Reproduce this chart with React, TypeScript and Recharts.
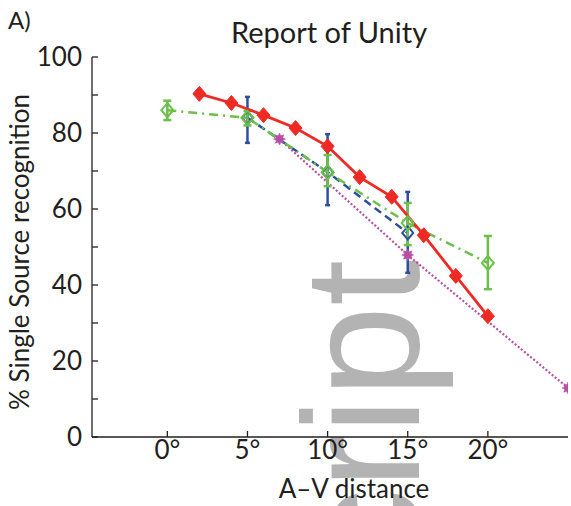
import { LineChart, Line, XAxis, YAxis, ErrorBar } from 'recharts';

// red: filled diamonds, solid
const redX = [2, 4, 6, 8, 10, 12, 14, 16, 18, 20];
const redY = [90.3, 87.9, 84.7, 81.3, 76.5, 68.4, 63.2, 53.1, 42.4, 31.8];

// green: open diamonds, dash-dot, with error bars
const greenX = [0, 5, 10, 15, 20];
const greenY = [86, 84, 69.7, 56.3, 45.8];
const greenLow = [2.6, 2, 3.7, 5.8, 6.9];
const greenHigh = [2.5, 1.8, 4.5, 5.3, 7.1];

// blue: open diamonds, dashed, with error bars
const blueX = [5, 10, 15];
const blueY = [84, 69.7, 53.7];
const blueLow = [6.6, 8.7, 10.5];
const blueHigh = [5.5, 10, 10.8];

// magenta: star markers, dotted
const pinkX = [7, 15, 25];
const pinkY = [78.4, 47.9, 12.9];

const xTicks = [0, 5, 10, 15, 20];
const yTicks = [0, 10, 20, 30, 40, 50, 60, 70, 80, 90, 100];

const RED = '#ee2a24';
const GREEN = '#6cbf4a';
const BLUE = '#2e4f9e';
const PINK = '#b84fa5';
const INK = '#231f20';
const FONT = 'Lato, "Open Sans", sans-serif';

const redData = redX.map((x, i) => ({ x, y: redY[i] }));
const greenData = greenX.map((x, i) => ({ x, y: greenY[i], err: [greenLow[i], greenHigh[i]] }));
const blueData = blueX.map((x, i) => ({ x, y: blueY[i], err: [blueLow[i], blueHigh[i]] }));
const pinkData = pinkX.map((x, i) => ({ x, y: pinkY[i] }));

function diamond(fill: string, stroke: string, w: number, h: number, sw: number) {
  return (p: any) => {
    const { cx, cy, index } = p;
    if (cx == null || cy == null) return <g key={index} />;
    return (
      <polygon
        key={index}
        points={`${cx},${cy - h} ${cx + w},${cy} ${cx},${cy + h} ${cx - w},${cy}`}
        fill={fill}
        stroke={stroke}
        strokeWidth={sw}
      />
    );
  };
}

function star(p: any) {
  const { cx, cy, index } = p;
  if (cx == null || cy == null) return <g key={index} />;
  const pts: string[] = [];
  for (let k = 0; k < 16; k++) {
    const r = k % 2 === 0 ? 6 : 3.5;
    const a = (Math.PI * k) / 8;
    pts.push(`${cx + r * Math.cos(a)},${cy + r * Math.sin(a)}`);
  }
  return <polygon key={index} points={pts.join(' ')} fill={PINK} stroke={PINK} strokeWidth={0.5} />;
}

export default function App() {
  return (
    <div style={{ position: 'absolute', left: 0, top: 0, width: 571, height: 506, background: '#fff' }}>
      <svg width={571} height={506} style={{ position: 'absolute', left: 0, top: 0 }}>
        <text
          x={419}
          y={260}
          transform="rotate(-90, 419, 260)"
          textAnchor="end"
          fontFamily='"Liberation Sans", Arial, sans-serif'
          fontSize={165}
          fill="#b3b3b3"
        >
          Manuscript
        </text>
        <text x={8} y={29} fontFamily={FONT} fontSize={24} fill={INK}>A)</text>
        <text x={329} y={43} textAnchor="middle" fontFamily={FONT} fontSize={29} fill={INK}>
          Report of Unity
        </text>
        <text
          transform="translate(29, 252) rotate(-90)"
          textAnchor="middle"
          fontFamily={FONT}
          fontSize={26}
          fill={INK}
        >
          % Single Source recognition
        </text>
        <text x={354} y={498} textAnchor="middle" fontFamily={FONT} fontSize={26} fill={INK}>
          A–V distance
        </text>
      </svg>
      <div style={{ position: 'absolute', left: 0, top: 0 }}>
        <LineChart width={571} height={506} margin={{ top: 57, right: 3, bottom: 0, left: 22 }}>
          <XAxis
            xAxisId={0}
            type="number"
            dataKey="x"
            domain={[-4.7, 25]}
            allowDataOverflow
            ticks={xTicks}
            tickFormatter={(v) => `${v}°`}
            height={69}
            tickSize={-6}
            tickMargin={10}
            stroke={INK}
            strokeWidth={1.3}
            tick={{ fontSize: 26, fill: INK, fontFamily: FONT }}
          />
          <XAxis
            xAxisId="top"
            orientation="top"
            type="number"
            dataKey="x"
            domain={[-4.7, 25]}
            allowDataOverflow
            ticks={xTicks}
            height={0}
            mirror
            tickSize={6}
            tick={false}
            stroke={INK}
            strokeWidth={1.3}
          />
          <YAxis
            yAxisId={0}
            type="number"
            domain={[0, 100]}
            allowDataOverflow
            ticks={yTicks}
            tickFormatter={(v) => (v % 20 === 0 ? `${v}` : '')}
            width={70}
            tickSize={-6}
            tickMargin={16}
            stroke={INK}
            strokeWidth={1.3}
            tick={{ fontSize: 26, fill: INK, fontFamily: FONT }}
          />
          <YAxis
            yAxisId="right"
            orientation="right"
            type="number"
            domain={[0, 100]}
            allowDataOverflow
            ticks={yTicks}
            width={0}
            mirror
            tickSize={6}
            tick={false}
            stroke={INK}
            strokeWidth={1.3}
          />
          <Line
            data={pinkData}
            dataKey="y"
            stroke={PINK}
            strokeWidth={2.2}
            strokeDasharray="2 2"
            dot={star}
            isAnimationActive={false}
          />
          <Line
            data={blueData}
            dataKey="y"
            stroke={BLUE}
            strokeWidth={2.5}
            strokeDasharray="8 5"
            dot={diamond('none', BLUE, 5.5, 6.5, 2)}
            isAnimationActive={false}
          >
            <ErrorBar dataKey="err" direction="y" width={2.5} stroke={BLUE} strokeWidth={2.5} />
          </Line>
          <Line
            data={greenData}
            dataKey="y"
            stroke={GREEN}
            strokeWidth={2.5}
            strokeDasharray="9 5 2 5"
            dot={diamond('none', GREEN, 6, 7, 2)}
            isAnimationActive={false}
          >
            <ErrorBar dataKey="err" direction="y" width={4} stroke={GREEN} strokeWidth={2.5} />
          </Line>
          <Line
            data={redData}
            dataKey="y"
            stroke={RED}
            strokeWidth={2.8}
            dot={diamond(RED, RED, 6.5, 7.5, 1)}
            isAnimationActive={false}
          />
        </LineChart>
      </div>
    </div>
  );
}
